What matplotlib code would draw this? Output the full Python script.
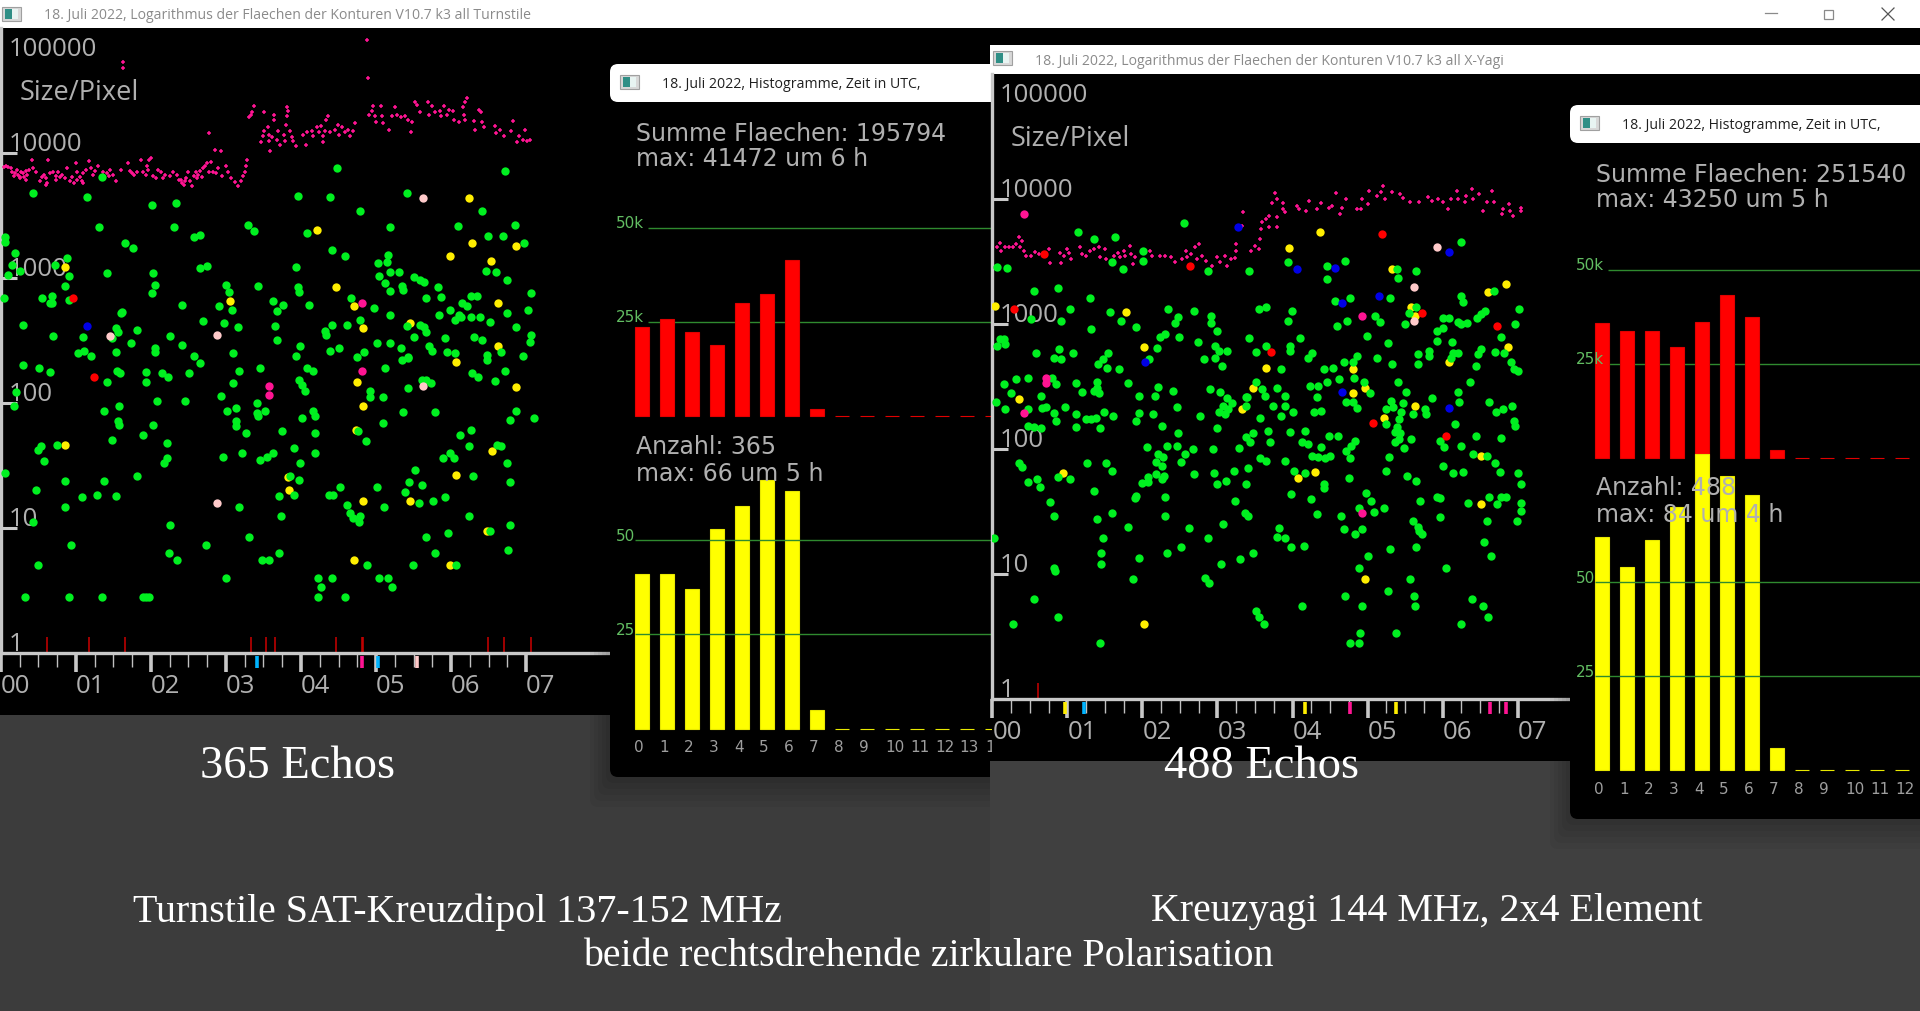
import numpy as np
import matplotlib
matplotlib.use('Agg')
import matplotlib.pyplot as plt
from matplotlib.patches import Rectangle, FancyBboxPatch

W, H = 1920, 1012

# scatter data: (hour UTC, log10 of contour area in pixels)
left_green = [(.43,3.68),(1.15,3.65),(1.35,3.81),(2.01,3.59),(2.33,3.60),(1.31,3.41),(2.31,3.41),(2.57,3.33),(2.66,3.35),(3.29,3.43),(3.38,3.38),(3.96,3.66),(4.38,3.65),(4.48,3.88),(4.78,3.54),(4.08,3.36),(5.19,3.41),(5.41,3.68),(6.09,3.42),(6.41,3.54),(6.72,3.86),(6.85,3.43),(6.49,3.34),(6.69,3.34),(6.97,3.28),
(.06,3.33),(.06,3.29),(.19,3.20),(1.66,3.28),(1.76,3.24),(.88,3.16),(.72,3.11),(.15,3.11),(.26,3.06),(.10,3.03),(.91,3.02),(1.41,3.04),(2.03,3.04),(2.66,3.08),(2.75,3.10),(4.41,3.23),(4.58,3.18),(3.94,3.09),(5.16,3.19),(5.14,3.13),(5.02,3.12),(5.19,3.05),(5.31,3.05),(5.04,3.02),(5.51,3.01),(5.59,2.99),(5.64,2.97),(6.46,3.06),(6.60,3.05),(6.74,2.99),
(.86,2.94),(2.05,2.95),(3.0,2.95),(3.43,2.94),(3.96,2.93),(3.98,2.89),(5.12,2.96),(5.34,2.94),(5.36,2.91),(5.19,2.90),(5.83,2.93),(7.06,2.88),(.04,2.84),(.55,2.84),(.68,2.86),(.68,2.80),(.65,2.80),(.91,2.83),(2.01,2.88),(3.04,2.89),(4.66,2.84),(5.66,2.84),(5.87,2.85),(6.27,2.86),(6.34,2.86),(3.63,2.82),(3.76,2.79),(4.11,2.79),(2.41,2.79),(2.91,2.78),(3.68,2.74),(3.08,2.75),(4.97,2.76),(6.14,2.80),(6.21,2.78),(5.99,2.75),(7.03,2.75),(6.74,2.72),(5.84,2.71),(5.19,2.71),(1.62,2.73),(1.60,2.72),(6.10,2.71),(6.05,2.67),(6.13,2.69),(6.26,2.69),(6.39,2.69),(6.52,2.65),(4.78,2.67),
(.30,2.63),(2.69,2.66),(2.98,2.64),(3.16,2.61),(3.66,2.62),(4.41,2.63),(4.61,2.63),(5.41,2.62),(5.58,2.63),(5.64,2.61),(5.66,2.57),(6.86,2.61),(1.54,2.60),(1.56,2.57),(1.82,2.59),(4.32,2.58),(4.33,2.55),(.70,2.54),(1.09,2.53),(1.48,2.52),(2.26,2.54),(3.68,2.51),(5.51,2.53),(5.92,2.52),(6.31,2.53),(6.41,2.51),(7.07,2.55),(7.05,2.49),(1.73,2.48),(2.41,2.47),(3.99,2.46),(5.01,2.48),(5.19,2.48),(5.33,2.44),(5.71,2.46),(2.05,2.44),(2.05,2.41),(1.11,2.42),(1.03,2.40),(1.53,2.41),(3.09,2.40),(4.39,2.42),(4.51,2.44),(4.84,2.41),(5.74,2.42),(5.94,2.41),(6.05,2.40),(6.67,2.41),(6.48,2.39),(6.96,2.38),(1.2,2.38),(2.57,2.38),(3.93,2.38),(4.75,2.37),(5.42,2.37),
(5.35,2.35),(5.42,2.36),(6.48,2.35),(.30,2.31),(.51,2.28),(.66,2.25),(1.55,2.26),(1.59,2.24),(1.93,2.25),(2.15,2.24),(2.23,2.21),(2.51,2.24),(2.66,2.32),(3.18,2.26),(3.45,2.28),(4.08,2.28),(4.16,2.26),(5.12,2.28),(6.28,2.24),(6.36,2.21),(6.72,2.26),(1.41,2.17),(1.94,2.17),(3.09,2.16),(6.59,2.18),(3.97,2.19),(4.01,2.15),(4.05,2.10),(5.61,2.19),(5.67,2.19),(5.73,2.16),(5.42,2.12),(4.92,2.10),(4.92,2.05),(.20,2.09),(2.94,2.06),(5.09,2.05),(2.08,2.02),(2.46,2.02),(3.41,2.0),(.17,1.98),(1.58,1.98),(1.38,1.94),(3.01,1.94),(3.13,1.96),(3.41,1.92),(3.43,1.90),(3.52,1.94),(4.16,1.94),(4.18,1.90),(4.01,1.88),(5.36,1.93),(5.78,1.93),(6.87,1.94),(6.78,1.87),(7.10,1.88),
(1.56,1.86),(1.58,1.83),(2.03,1.83),(3.14,1.86),(3.14,1.82),(5.09,1.84),(3.75,1.78),(3.27,1.76),(4.18,1.76),(4.76,1.78),(4.86,1.70),(6.12,1.75),(6.26,1.79),(1.89,1.75),(1.48,1.71),(2.21,1.68),(6.24,1.66),(6.61,1.67),(6.67,1.66),(.75,1.67),(.54,1.66),(.49,1.63),(3.91,1.64),(3.21,1.60),(2.96,1.57),(4.18,1.60),(3.63,1.60),(3.55,1.57),(3.46,1.55),(5.99,1.60),(6.04,1.56),(5.89,1.56),(2.21,1.56),(2.18,1.52),(.58,1.54),(3.99,1.52),(6.74,1.52),(5.52,1.47),(.06,1.44),(1.82,1.42),(3.86,1.42),(6.29,1.42),(.85,1.38),(1.38,1.38),(3.97,1.39),(5.44,1.37),(5.61,1.35),(6.79,1.37),(4.52,1.33),(5.01,1.33),(.47,1.31),(1.28,1.27),(1.54,1.26),(1.08,1.25),(3.71,1.26),(3.91,1.27),(4.37,1.27),(4.42,1.27),(5.38,1.29),(5.92,1.25),(5.76,1.22),(5.57,1.20),(4.61,1.19),(5.11,1.17),(.85,1.17),(3.18,1.17),
(4.65,1.12),(4.79,1.10),(4.69,1.08),(4.77,1.05),(3.73,1.10),(6.24,1.10),(.43,1.05),(2.26,1.03),(6.78,1.03),(6.52,.98),(5.96,.96),(3.31,.93),(5.67,.93),(.93,.87),(2.73,.87),(6.76,.83),(2.24,.80),(2.35,.75),(3.71,.80),(5.79,.80),(3.48,.75),(3.58,.75),(.49,.71),(4.88,.71),(5.49,.71),(6.06,.71),(3.0,.60),(4.23,.60),(4.41,.60),(5.04,.60),(5.16,.60),(4.26,.53),(5.21,.53),(.32,.45),(.91,.45),(1.35,.45),(1.89,.45),(1.93,.45),(1.98,.45),(4.23,.45),(4.59,.45)]
left_yellow = [(.86,3.09),(4.21,3.39),(6.24,3.64),(6.28,3.28),(6.86,3.26),(5.99,3.18),(6.53,3.14),(4.46,2.93),(3.06,2.82),(4.70,2.78),(6.62,2.80),(5.45,2.64),(4.83,2.60),(6.62,2.46),(6.07,2.33),(4.74,2.17),(6.86,2.13),(4.82,1.98),(4.73,1.79),(.86,1.67),(6.54,1.62),(6.07,1.43),(3.83,1.41),(3.84,1.31),(4.82,1.22),(5.45,1.22),(6.48,.98),(4.71,.75),(5.99,.71)]
left_red = [(.96,2.84),(1.24,2.21)]
left_blue = [(1.15,2.62)]
left_pink = [(5.62,3.64),(1.46,2.54),(2.88,2.55),(5.63,2.14),(2.88,1.2)]
left_hotpink = [(4.81,2.80),(4.81,2.26),(3.58,2.14),(3.58,2.07)]
left_band = [(4.88,4.91),(4.89,4.60),(1.63,4.73),(1.63,4.68),(2.78,4.16),(2.86,4.03),(2.93,4.02),
(.04,3.89),(.07,3.90),(.10,3.89),(.13,3.88),(.15,3.85),(.17,3.82),(.19,3.84),(.21,3.87),(.23,3.83),(.25,3.81),(.27,3.85),(.29,3.84),(.31,3.81),(.33,3.79),(.35,3.83),(.37,3.87),(.41,3.95),(.43,3.88),(.47,3.85),(.52,3.78),(.55,3.81),(.58,3.83),(.60,3.80),(.62,3.76),(.63,3.95),(.66,3.84),(.70,3.85),(.73,3.82),(.76,3.85),(.79,3.81),(.82,3.83),(.85,3.80),(.88,3.88),(.92,3.78),(.95,3.81),(.98,3.76),(1.0,3.92),(1.02,3.85),(1.05,3.81),(1.08,3.78),(1.10,3.84),(1.14,3.87),(1.18,3.94),(1.2,3.88),(1.23,3.83),(1.26,3.86),(1.3,3.90),(1.36,3.85),(1.42,3.84),(1.46,3.87),(1.5,3.83),(1.53,3.78),(1.60,3.87),(1.69,3.92),(1.72,3.86),(1.75,3.84),(1.78,3.83),(1.82,3.85),(1.87,3.95),(1.9,3.85),(1.93,3.83),(1.96,3.87),(1.98,3.95),(2.0,3.96),(2.03,3.82),(2.07,3.80),(2.1,3.87),(2.13,3.85),(2.16,3.80),(2.19,3.83),(2.25,3.82),(2.3,3.85),(2.35,3.83),(2.38,3.79),(2.41,3.76),(2.44,3.75),(2.47,3.80),(2.5,3.85),(2.52,3.78),(2.55,3.74),(2.58,3.82),(2.6,3.85),(2.63,3.83),(2.66,3.86),(2.69,3.88),(2.72,3.90),(2.75,3.92),(2.8,3.93),(2.83,3.85),(2.87,3.84),(2.9,3.88),(2.95,3.82),(3.0,3.90),(3.03,3.85),(3.07,3.80),(3.12,3.77),(3.16,3.74),(3.2,3.78),(3.23,3.82),(3.25,3.85),(3.27,3.90),(3.28,3.95),(1.44,3.82),(1.95,3.90),(2.77,3.85),(2.62,3.80),(2.68,3.81),(2.4,3.79),(2.45,3.78),(.26,3.80),(.34,3.86),(.6,3.75),(.74,3.79),(1.1,3.76),(1.02,3.79),
(3.31,4.29),(3.33,4.31),(3.35,4.33),(3.37,4.38),(3.51,4.33),(3.64,4.31),(3.64,4.27),(3.82,4.37),(3.83,4.34),(3.82,4.30),(3.80,4.23),(3.47,4.09),(3.49,4.14),(3.51,4.18),(3.56,4.21),(3.57,4.15),(3.58,4.10),(3.59,4.02),(3.62,4.13),(3.69,4.18),(3.68,4.11),(3.72,4.07),(3.77,4.15),(3.79,4.10),(3.85,4.18),(3.88,4.13),(3.90,4.10),(3.93,4.06),(4.06,4.07),(4.02,4.15),(4.08,4.17),(4.14,4.18),(4.16,4.14),(4.21,4.21),(4.24,4.17),(4.26,4.22),(4.29,4.14),(4.29,4.09),(4.32,4.18),(4.33,4.27),(4.36,4.30),(4.39,4.17),(4.45,4.19),(4.49,4.23),(4.50,4.15),(4.55,4.21),(4.58,4.17),(4.63,4.19),(4.65,4.14),(4.69,4.18),(4.72,4.24),
(4.90,4.31),(4.94,4.34),(4.96,4.38),(4.99,4.30),(5.0,4.25),(5.06,4.38),(5.08,4.30),(5.09,4.24),(5.17,4.19),(5.21,4.30),(5.25,4.37),(5.28,4.31),(5.33,4.29),(5.38,4.30),(5.43,4.27),(5.46,4.17),(5.48,4.25),(5.52,4.41),(5.54,4.39),(5.59,4.33),(5.69,4.41),(5.71,4.31),(5.75,4.38),(5.79,4.33),(5.85,4.34),(5.87,4.30),(5.90,4.38),(5.95,4.31),(5.97,4.35),(6.03,4.34),(6.04,4.27),(6.10,4.25),(6.16,4.37),(6.17,4.31),(6.18,4.27),(6.21,4.44),(6.19,4.41),(6.31,4.26),(6.32,4.19),(6.37,4.35),(6.40,4.33),(6.41,4.25),(6.44,4.21),(6.58,4.22),(6.60,4.16),(6.65,4.19),(6.70,4.14),(6.80,4.18),(6.82,4.26),(6.88,4.09),(6.91,4.14),(6.96,4.11),(6.98,4.19),(7.01,4.10),(7.05,4.11)]

right_green = [(1.14,3.74),(1.36,3.68),(1.64,3.70),(2.56,3.81),(2.01,3.59),(2.01,3.51),(1.59,3.50),(1.74,3.44),(.06,3.46),(.19,3.45),(2.87,3.43),(3.42,3.43),(3.94,3.50),(4.46,3.47),(4.46,3.36),(4.70,3.51),(6.24,3.66),(5.39,3.44),(5.64,3.43),(5.40,3.37),(.56,3.27),(.87,3.29),(1.30,3.21),(4.57,3.19),(4.77,3.21),(5.30,3.21),(6.68,3.27),(6.25,3.23),(6.27,3.18),(1.04,3.12),(1.57,3.10),(2.34,3.12),(2.69,3.11),(2.91,3.07),(2.91,3.01),(2.47,3.06),(2.43,3.01),(3.55,3.12),(3.65,3.14),(3.99,3.11),(3.94,3.03),(.52,3.04),(.91,3.03),(1.72,3.03),(5.10,3.07),(5.17,3.02),(4.72,3.03),(4.59,2.99),(5.55,3.09),(5.65,3.14),(5.50,3.00),(6.0,3.05),(6.09,3.05),(6.21,3.02),(6.25,3.0),(6.33,3.01),(6.46,3.05),(6.51,3.08),(6.57,3.11),(7.02,3.12),(6.97,3.0),
(1.32,2.96),(1.92,2.98),(2.99,2.95),(5.92,2.95),(6.0,2.97),(2.30,2.92),(2.23,2.90),(2.49,2.90),(3.42,2.89),(4.10,2.89),(4.99,2.91),(6.78,2.90),(5.92,2.87),(6.12,2.86),(.1,2.88),(.15,2.88),(.06,2.83),(.17,2.84),(2.74,2.86),(5.27,2.85),(2.97,2.83),(3.02,2.79),(3.13,2.79),(3.65,2.83),(3.97,2.83),(3.97,2.79),(2.19,2.81),(.89,2.80),(.58,2.77),(1.08,2.77),(3.51,2.78),(1.54,2.77),(4.26,2.77),(4.21,2.73),(4.86,2.75),(4.81,2.70),(4.68,2.70),(5.67,2.76),(5.82,2.79),(5.82,2.75),(6.21,2.77),(6.14,2.77),(6.11,2.73),(6.51,2.80),(6.47,2.76),(6.70,2.78),(6.82,2.77),(.82,2.73),(.91,2.72),(2.09,2.72),(2.82,2.72),(2.97,2.73),(1.47,2.72),(1.41,2.68),(1.53,2.65),(5.12,2.73),(5.32,2.68),(5.67,2.68),(6.91,2.70),(6.44,2.67),(3.06,2.67),(4.54,2.65),(4.42,2.64),(1.69,2.64),(3.85,2.64),(6.95,2.64),(7.0,2.63),
(.47,2.57),(.31,2.56),(.16,2.52),(.80,2.57),(.85,2.52),(1.11,2.53),(1.40,2.54),(1.40,2.49),(1.81,2.53),(3.52,2.54),(4.46,2.54),(4.62,2.56),(4.82,2.57),(4.95,2.54),(5.40,2.54),(6.37,2.54),(4.23,2.51),(4.34,2.51),(2.21,2.50),(2.90,2.48),(3.04,2.46),(3.60,2.48),(3.79,2.49),(2.41,2.47),(.25,2.45),(1.19,2.46),(1.35,2.47),(1.42,2.45),(5.51,2.46),(6.2,2.46),(1.96,2.43),(2.17,2.43),(.65,2.43),(3.13,2.41),(3.39,2.42),(3.64,2.43),(3.90,2.43),(4.32,2.42),(5.03,2.45),
(.05,2.38),(.17,2.32),(.47,2.32),(.66,2.33),(.72,2.34),(.82,2.29),(.85,2.23),(.97,2.34),(1.12,2.28),(1.25,2.24),(1.31,2.24),(1.38,2.25),(1.49,2.30),(1.61,2.27),(1.11,2.18),(1.44,2.17),(1.96,2.29),(1.92,2.23),(2.14,2.28),(2.46,2.34),(2.26,2.19),(.47,2.19),(.56,2.18),(.65,2.17),(2.77,2.27),(2.99,2.17),(3.02,2.30),(3.08,2.35),(3.14,2.32),(3.2,2.37),(3.10,2.28),(3.38,2.35),(3.38,2.42),(3.57,2.25),(3.74,2.35),(3.85,2.27),(3.90,2.35),(4.0,2.30),(4.29,2.30),(4.38,2.31),(4.71,2.38),(4.81,2.38),(4.86,2.33),(5.24,2.32),(5.31,2.39),(5.34,2.34),(5.24,2.20),(5.47,2.37),(5.45,2.30),(5.42,2.24),(5.39,2.18),(5.37,2.14),(5.43,2.13),(5.36,2.06),(5.42,2.08),(5.48,2.01),(5.61,2.28),(5.76,2.32),(5.78,2.28),(5.86,2.41),(6.22,2.38),(6.62,2.38),(6.71,2.30),(6.80,2.32),(6.92,2.35),(6.95,2.23),(6.97,2.19),(6.16,2.20),(6.44,2.11),(6.78,2.09),(5.58,2.08),(5.97,2.07),(6.02,2.02),(6.24,2.03),(6.41,1.96),(6.59,1.95),(6.70,1.89),(6.76,1.82),(6.0,1.87),(6.14,1.81),(6.27,1.82),(7.0,1.81),(7.05,1.72),(5.52,1.79),(5.64,1.75),(5.29,1.94),(5.25,1.83),
(4.17,2.15),(3.97,2.14),(3.67,2.15),(3.47,2.13),(3.38,2.10),(3.44,2.06),(3.70,2.06),(4.13,2.06),(4.21,2.04),(4.48,2.11),(4.61,2.11),(4.83,2.07),(4.78,2.03),(4.71,1.99),(4.38,2.02),(2.48,2.13),(2.33,2.03),(2.46,2.03),(2.06,2.02),(2.68,2.0),(2.94,2.0),(3.29,2.01),(2.57,1.96),(2.52,1.90),(2.21,1.96),(2.28,1.94),(2.18,1.90),(2.26,1.87),(4.26,1.95),(4.34,1.94),(4.43,1.93),(4.50,1.95),(4.77,1.93),(3.57,1.93),(3.65,1.91),(3.90,1.91),(1.26,1.89),(1.52,1.89),(.36,1.89),(.39,1.86),(1.59,1.83),(3.41,1.85),(3.22,1.83),(4.02,1.83),(4.16,1.81),(2.69,1.80),(2.96,1.81),(2.18,1.80),(2.29,1.79),(2.08,1.78),(2.26,1.76),(1.99,1.73),(2.08,1.74),(.87,1.78),(1.04,1.76),(.59,1.76),(.47,1.74),(.63,1.70),(3.11,1.75),(2.99,1.72),(3.38,1.72),(4.42,1.72),(4.42,1.69),(4.75,1.77),(1.36,1.67),(3.98,1.64),(4.25,1.60),(4.98,1.65),(5.05,1.59),(5.08,1.50),(5.22,1.53),(4.89,1.53),(1.92,1.63),(1.90,1.61),(2.30,1.62),(3.24,1.59),(.77,1.58),(.82,1.47),(5.70,1.59),(5.93,1.62),(5.97,1.61),(6.34,1.57),(6.62,1.62),(6.72,1.56),(6.78,1.62),(6.84,1.62),(7.05,1.57),(7.04,1.51),(6.99,1.43),(1.60,1.49),(1.39,1.44),(2.30,1.47),(3.37,1.49),(3.41,1.47),(4.32,1.48),(4.65,1.47),(5.97,1.46),(5.60,1.43),(6.59,1.43),
(1.81,1.38),(2.62,1.37),(3.07,1.40),(3.82,1.37),(4.68,1.36),(4.92,1.36),(5.67,1.38),(5.69,1.35),(5.72,1.32),(4.83,1.32),(1.47,1.29),(2.87,1.29),(3.79,1.30),(3.90,1.29),(.02,1.29),(6.55,1.26),(2.51,1.22),(3.98,1.22),(4.15,1.23),(5.65,1.22),(5.30,1.20),(1.45,1.17),(2.33,1.17),(3.47,1.17),(5.01,1.15),(6.65,1.15),(1.95,1.13),(3.30,1.12),(1.45,1.08),(3.05,1.08),(.82,1.05),(.84,1.03),(4.89,1.05),(6.04,1.05),(1.87,.96),(2.84,.97),(2.89,.93),(5.56,.96),(5.27,.87),(4.70,.83),(5.62,.83),(.56,.80),(6.39,.80),(4.12,.75),(4.92,.75),(5.63,.75),(6.54,.75),(3.52,.71),(3.55,.66),(3.62,.60),(.87,.66),(6.60,.66),(.28,.60),(6.24,.60),(4.90,.53),(5.38,.53),(1.44,.45),(4.77,.45),(4.89,.45)]
right_yellow = [(4.37,3.74),(3.95,3.61),(5.33,3.44),(6.85,3.32),(6.60,3.26),(5.58,3.14),(5.63,3.07),(1.78,3.10),(.04,3.15),(2.02,2.82),(6.87,2.82),(6.08,2.70),(3.65,2.65),(4.80,2.64),(3.47,2.49),(4.97,2.49),(4.80,2.45),(.36,2.40),(3.33,2.32),(5.63,2.35),(5.22,2.25),(6.51,1.95),(.94,1.81),(4.30,1.82),(4.07,1.77),(6.51,1.56),(4.97,.96),(2.02,.60)]
right_red = [(.69,3.56),(2.64,3.47),(5.19,3.72),(.29,3.12),(3.72,2.78),(5.73,3.09),(6.72,2.99),(5.07,2.21),(6.05,2.11)]
right_blue = [(3.28,3.78),(4.06,3.44),(4.57,3.45),(6.09,3.58),(5.15,3.23),(4.66,3.17),(2.04,2.70),(4.66,2.46),(6.09,2.33)]
right_pink = [(5.92,3.62),(5.62,3.30),(5.62,3.03)]
right_hotpink = [(.42,3.88),(.71,2.57),(.71,2.53),(4.92,3.07),(.42,2.29),(4.92,1.49)]
right_band = [(.06,3.62),(.10,3.65),(.12,3.59),(.17,3.62),(.22,3.62),(.27,3.62),(.32,3.64),(.36,3.70),(.40,3.67),(.37,3.62),(.42,3.59),(.45,3.55),(.51,3.55),(.57,3.58),(.62,3.56),(.77,3.49),(.75,3.60),(.90,3.57),(.92,3.49),(.95,3.55),(1.0,3.60),(1.02,3.57),(1.05,3.52),(1.17,3.62),(1.2,3.56),(1.25,3.55),(1.30,3.59),(1.35,3.60),(1.42,3.62),(1.43,3.54),(1.50,3.60),(1.52,3.52),(1.62,3.55),(1.67,3.57),(1.70,3.54),(1.75,3.59),(1.77,3.55),(1.83,3.63),(1.85,3.56),(1.87,3.48),(1.90,3.54),(2.10,3.59),(2.13,3.55),(2.23,3.55),(2.30,3.55),(2.38,3.54),(2.43,3.50),(2.53,3.52),(2.58,3.59),(2.60,3.54),(2.65,3.56),(2.70,3.62),(2.75,3.64),(2.73,3.52),(2.80,3.55),(2.85,3.51),(2.93,3.47),(3.0,3.54),(3.03,3.50),(3.10,3.55),(3.13,3.47),(3.18,3.52),(3.24,3.53),(3.25,3.59),(3.25,3.64),(3.33,3.79),(3.34,3.90),(3.45,3.59),(3.50,3.63),(3.55,3.60),(3.57,3.68),(3.58,3.76),(3.60,3.82),(3.65,3.84),(3.69,3.87),(3.69,3.78),(3.80,3.86),(3.80,3.78),
(3.73,3.97),(3.77,4.05),(3.79,4.0),(3.87,3.97),(3.88,3.92),(3.90,3.90),(4.06,3.95),(4.08,3.92),(4.18,3.91),(4.22,3.99),(4.32,3.92),(4.38,3.97),(4.48,3.93),(4.53,3.95),(4.58,4.05),(4.63,3.88),(4.66,3.93),(4.71,4.0),(4.86,3.92),(4.91,3.92),(4.93,4.0),(5.02,4.07),(5.01,3.96),(5.13,4.03),(5.18,4.06),(5.21,4.11),(5.23,4.0),(5.32,4.06),(5.43,4.04),(5.47,4.01),(5.57,3.98),(5.68,3.98),(5.81,4.02),(5.86,3.99),(5.94,4.0),(6.01,3.98),(6.11,4.0),(6.19,4.07),(6.21,4.0),(6.07,3.92),(6.30,3.98),(6.31,4.03),(6.39,4.08),(6.41,4.0),(6.49,4.04),(6.54,3.91),(6.59,3.98),(6.66,4.07),(6.69,3.98),(6.79,3.88),(6.81,3.92),(6.88,3.96),(6.90,3.91),(6.94,3.87),(7.04,3.93),(7.04,3.91)]

# rug marks along the time axis
left_rug_red = [.61,1.17,1.66,3.34,3.54,3.66,4.46,4.81,4.82,6.49,6.70,7.07]
left_rug_low = {'#00b4ff': [3.42,5.02], '#ff1493': [4.81], '#ffc8c8': [5.55]}
right_rug_red = [.61]
right_rug_low = {'#ffee00': [.97,4.17,5.38], '#00b4ff': [1.22], '#ff1493': [4.77,6.63,6.85]}

# histograms per hour
left_areas = [23522,25860,22290,18965,29925,32390,41472,1970,0,0,0,0,0,0,0]
left_counts = [41,41,37,53,59,66,63,5,0,0,0,0,0,0,0]
right_areas = [35714,33743,33743,29433,36083,43250,37438,2136,0,0,0,0,0]
right_counts = [62,54,61,70,84,78,73,6,0,0,0,0,0]

TXT = '#b0b0b0'
FONT = 'Open Sans'
plt.rcParams['font.family'] = [FONT, 'DejaVu Sans']

fig = plt.figure(figsize=(W/100, H/100), dpi=100, facecolor='#3f3f3f')


def px_axes(x0, y0, x1, y1, z):
    ax = fig.add_axes([x0/W, 1-y1/H, (x1-x0)/W, (y1-y0)/H], zorder=z)
    return ax


def chrome_axes(z):
    ax = px_axes(0, 0, W, H, z)
    ax.set_xlim(0, W)
    ax.set_ylim(H, 0)
    ax.axis('off')
    ax.patch.set_alpha(0)
    return ax


def icon(ch, x, y):
    ch.add_patch(Rectangle((x, y), 19, 14, fc='#d8d8d8', ec='#a0a0a0', lw=.8))
    ch.add_patch(Rectangle((x+3, y+2), 7, 10, fc='#2f8f86', ec='none'))
    ch.add_patch(Rectangle((x+10, y+2), 6, 10, fc='#e8f4f2', ec='none'))


def scatter_panel(x0, y0, x1, y1, hour0, log0, z, green, yellow, red, blue, pink, hotpink, band, rug_red, rug_low):
    # log0 is the pixel row of log10=0, one hour is 75 px and one decade 125 px
    ax = px_axes(x0, y0, x1, y1, z)
    ax.set_facecolor('black')
    ax.set_xlim((x0-hour0)/75.05, (x1-hour0)/75.05)
    ax.set_ylim((log0-y1)/125, (log0-y0)/125)
    for s in ['top', 'right']:
        ax.spines[s].set_visible(False)
    ax.spines['bottom'].set_position(('data', 0))
    ax.spines['left'].set_position(('data', 0))
    ax.spines['bottom'].set_color('#c8c8c8')
    ax.spines['left'].set_color('#c8c8c8')
    ax.spines['bottom'].set_linewidth(2.4)
    ax.spines['left'].set_linewidth(2.4)
    ax.spines['left'].set_bounds(0, (log0-y0)/125)
    ax.set_xticks(range(8))
    ax.set_xticklabels(['%02d' % h for h in range(8)], ha='left', color=TXT, fontsize=18.5)
    ax.set_xticks(np.arange(0, 7, .25), minor=True)
    ax.tick_params(axis='x', which='major', direction='out', length=14, width=2.6, color='#c8c8c8', pad=0)
    ax.tick_params(axis='x', which='minor', direction='out', length=10, width=1, color='#c0c0c0')
    ax.set_yticks([1, 2, 3, 4])
    ax.set_yticklabels([])
    ax.tick_params(axis='y', direction='in', length=11.5, width=2.2, color='#c8c8c8')
    for lab, v in zip(['1', '10', '100', '1000', '10000', '100000'], [.03, 1.03, 2.03, 3.03, 4.03, 4.79]):
        ax.text(.1, v, lab, color=TXT, fontsize=18.5, va='baseline', zorder=1)
    ax.text(.25, 4.435, 'Size/Pixel', color=TXT, fontsize=19.5, va='baseline')

    ax.vlines(rug_red, .01, .13, color='#cc0000', lw=1.1)
    for col, hours in rug_low.items():
        ax.vlines(hours, -.02, -.115, color=col, lw=2.6, zorder=3)

    ax.plot(*zip(*band), ls='none', marker='+', ms=3.4, mew=1.1, color='#ff1493', zorder=3)
    for pts, col in [(yellow, '#ffee00'), (green, '#00f020'), (blue, '#0000e6'), (red, '#ff0000'), (pink, '#ffcaca'), (hotpink, '#ff1493')]:
        ax.plot(*zip(*pts), ls='none', marker='o', ms=6, mew=0, color=col, zorder=4, clip_on=True)
    return ax


def hist_window(x0, x1, y0, y1, bar0, red_base, yellow_base, z, title, areas, counts, area_txt, count_txt):
    ch = chrome_axes(z)
    for i in range(6):
        ch.add_patch(FancyBboxPatch((x0-4*i, y0), x1-x0+300, y1-y0+6*i, boxstyle='round,pad=0,rounding_size=8', fc='black', ec='none', alpha=.045))
    ch.add_patch(FancyBboxPatch((x0, y0), x1-x0+300, y1-y0, boxstyle='round,pad=0,rounding_size=8', fc='black', ec='none'))
    ch.add_patch(FancyBboxPatch((x0, y0), x1-x0+300, 38, boxstyle='round,pad=0,rounding_size=8', fc='white', ec='none'))
    ch.add_patch(Rectangle((x0, y0+38.5), x1-x0+300, 10, fc='black', ec='none'))
    icon(ch, x0+10, y0+11)
    ch.text(x0+52, y0+19, title, color='#202020', fontsize=10.2, va='center')

    body_top, body_bot = y0+38.5, y1
    xlim = ((x0-bar0)/25, (x1-bar0)/25)

    red_ax = px_axes(x0, body_top, x1, body_bot, z+.1)
    red_ax.set_xlim(*xlim)
    red_ax.set_ylim((red_base-body_bot)/94.2*25000, (red_base-body_top)/94.2*25000)
    red_ax.axis('off')
    red_ax.patch.set_alpha(0)
    red_ax.hlines([25000, 50000], (x0+38-bar0)/25, xlim[1], color='#2f8a2f', lw=1, zorder=1)
    red_ax.bar(range(len(areas)), areas, width=.56, color='#ff0000', edgecolor='#e00000', lw=.8, zorder=2)
    for v, lab in [(50000, '50k'), (25000, '25k')]:
        red_ax.text(xlim[0]+.24, v+1300, lab, color='#62bd62', fontsize=11, va='center', zorder=3, family=['DejaVu Sans'])

    yel_ax = px_axes(x0, body_top, x1, body_bot, z+.2)
    yel_ax.set_xlim(*xlim)
    yel_ax.set_ylim((yellow_base-body_bot)/94.2*25, (yellow_base-body_top)/94.2*25)
    yel_ax.axis('off')
    yel_ax.patch.set_alpha(0)
    yel_ax.bar(range(len(counts)), counts, width=.56, color='#ffff00', edgecolor='#e8e800', lw=.8, zorder=1)
    yel_ax.hlines([25, 50], (x0+25-bar0)/25, xlim[1], color='#2f8a2f', lw=1, zorder=2)
    for v, lab in [(50, '50'), (25, '25')]:
        yel_ax.text(xlim[0]+.24, v+1.3, lab, color='#62bd62', fontsize=11, va='center', zorder=3, family=['DejaVu Sans'])
    for i in range(len(counts)):
        yel_ax.text(i-.12 if i < 10 else i+.1, -4.9, str(i), color='#9e9e9e', fontsize=11, ha='center', va='center', clip_on=True, family=['DejaVu Sans'])

    txt_x = x0+26
    ch2 = chrome_axes(z+.3)
    ch2.text(txt_x, y0+69, area_txt[0], color=TXT, fontsize=17, va='center', family=['DejaVu Sans'])
    ch2.text(txt_x, y0+94, area_txt[1], color=TXT, fontsize=17, va='center', family=['DejaVu Sans'])
    ch2.text(txt_x, y0+382, count_txt[0], color=TXT, fontsize=17, va='center', family=['DejaVu Sans'])
    ch2.text(txt_x, y0+409, count_txt[1], color=TXT, fontsize=17, va='center', family=['DejaVu Sans'])


# desktop behind everything
bg = chrome_axes(0)
bg.imshow([[.275], [.24]], extent=(0, W, H, 0), cmap='gray', vmin=0, vmax=1, aspect='auto')
bg.set_xlim(0, W)
bg.set_ylim(H, 0)

# first screenshot: Turnstile
top = chrome_axes(1)
top.add_patch(Rectangle((0, 0), W, 29, fc='white', ec='none'))
top.add_patch(Rectangle((0, 29), W, 17, fc='black', ec='none'))
icon(top, 2, 8)
top.text(44, 15, '18. Juli 2022, Logarithmus der Flaechen der Konturen V10.7 k3 all Turnstile', color='#8a8a8a', fontsize=10.1, va='center')
top.plot([1765, 1777], [14, 14], color='#8a8a8a', lw=.9)
top.add_patch(Rectangle((1824, 11), 9, 9, fc='none', ec='#8a8a8a', lw=.9))
top.plot([1882, 1894], [9, 21], color='#555555', lw=.9)
top.plot([1882, 1894], [21, 9], color='#555555', lw=.9)

scatter_panel(0, 29, 992, 716, .8, 654.3, 2, left_green, left_yellow, left_red, left_blue, left_pink, left_hotpink, left_band, left_rug_red, left_rug_low)
hist_window(610, 992, 65, 778, 642, 417, 729.5, 3, '18. Juli 2022, Histogramme, Zeit in UTC,', left_areas, left_counts,
            ['Summe Flaechen: 195794', 'max: 41472 um 6 h'], ['Anzahl: 365', 'max: 66 um 5 h'])

# second screenshot: X-Yagi, covers the right end of the first one
cover = chrome_axes(4)
cover.add_patch(Rectangle((990, 762), W-990, H-762, fc='#404040', ec='none'))
cover.add_patch(Rectangle((990, 46), W-990, 29, fc='white', ec='none'))
icon(cover, 993, 52)
cover.text(1035, 61, '18. Juli 2022, Logarithmus der Flaechen der Konturen V10.7 k3 all X-Yagi', color='#8a8a8a', fontsize=10.1, va='center')
cover.add_patch(Rectangle((990, 29), W-990, 17, fc='black', ec='none'))

scatter_panel(992, 75, 1920, 762, 992.3, 700.3, 5, right_green, right_yellow, right_red, right_blue, right_pink, right_hotpink, right_band, right_rug_red, right_rug_low)
hist_window(1570, 1920, 106, 820, 1602, 459, 771.3, 6, '18. Juli 2022, Histogramme, Zeit in UTC,', right_areas, right_counts,
            ['Summe Flaechen: 251540', 'max: 43250 um 5 h'], ['Anzahl: 488', 'max: 84 um 4 h'])

# captions on top
cap = chrome_axes(8)
SERIF = ['Liberation Serif', 'DejaVu Serif']
cap.text(298, 767, '365 Echos', color='white', fontsize=33.5, ha='center', va='center', family=SERIF)
cap.text(1262, 767, '488 Echos', color='white', fontsize=33.5, ha='center', va='center', family=SERIF)
cap.text(457, 912, 'Turnstile SAT-Kreuzdipol 137-152 MHz', color='white', fontsize=28.8, ha='center', va='center', family=SERIF)
cap.text(1427, 912, 'Kreuzyagi 144 MHz, 2x4 Element', color='white', fontsize=28.8, ha='center', va='center', family=SERIF)
cap.text(928, 957, 'beide rechtsdrehende zirkulare Polarisation', color='white', fontsize=28.8, ha='center', va='center', family=SERIF)

fig.savefig('out.png', dpi=100, facecolor=fig.get_facecolor())
